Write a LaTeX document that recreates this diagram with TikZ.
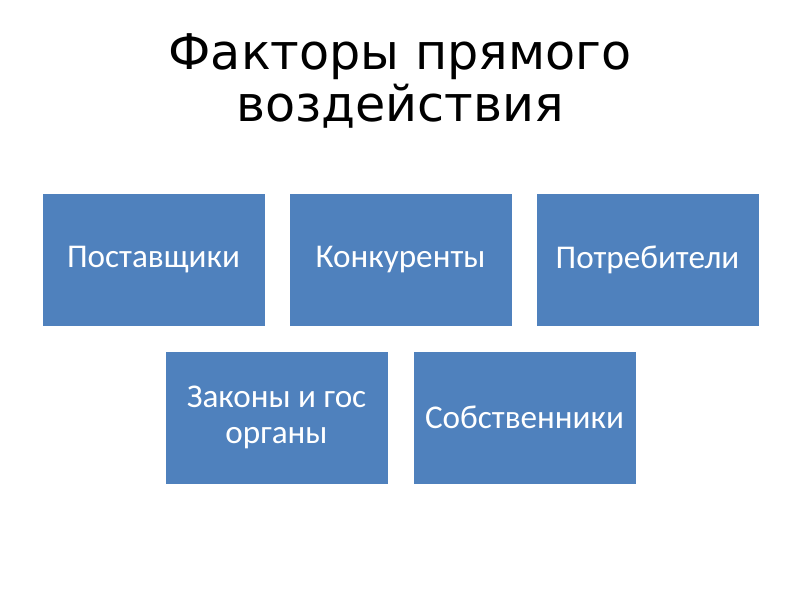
\documentclass[tikz,border=0pt]{standalone}
\usepackage{fontspec}
\setmainfont{Carlito}
\newfontfamily\titlefont{DejaVu Sans}
\definecolor{factorblue}{HTML}{4F81BD}

\begin{document}
\begin{tikzpicture}[x=0.025cm,y=-0.025cm,
	factor/.style={draw=white,fill=factorblue,text=white,inner sep=0,outer sep=0,minimum width=5.575cm,minimum height=3.325cm,align=center,font=\fontsize{23.6}{26}\selectfont}]
	\useasboundingbox (0,0) rectangle (800,600);
	\node[align=center,font=\titlefont\fontsize{35}{37.6}\selectfont] (title) at (400,81) {Факторы прямого\\воздействия};
	\node[factor] (supp) at (153.5,259.5) {Поставщики};
	\node[factor] (comp) at (400.5,259.5) {Конкуренты};
	\node[factor] (cons) at (647.5,259.5) {Потребители};
	\node[factor] (laws) at (276.5,417.5) {Законы и гос\\органы};
	\node[factor] (owners) at (524.5,417.5) {Собственники};
\end{tikzpicture}
\end{document}
